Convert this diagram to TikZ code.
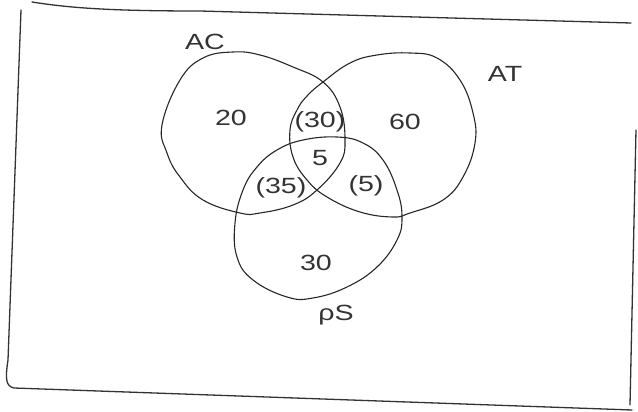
\documentclass[tikz,border=0pt]{standalone}
\usepackage{fontspec}
\setmainfont{Liberation Sans}
\newcommand{\wide}[1]{\scalebox{1.3}[1]{#1}}
\begin{document}
\begin{tikzpicture}[x=1pt,y=-1pt,
  pen/.style={draw=black!85,line width=1.1pt,line cap=round,line join=round},
  framepen/.style={draw=black!80,line width=1.3pt,line cap=round},
  region/.style={text=black!80,font=\fontsize{22}{24}\selectfont,inner sep=0pt},
  setname/.style={text=black!80,font=\fontsize{22}{24}\selectfont,inner sep=0pt}]
\useasboundingbox (0,0) rectangle (638,412);

% sheet border
\draw[framepen] (32,2) .. controls (70,8) and (110,11) .. (200,11) -- (631,23);
\draw[framepen] (21,10) -- (8,360) .. controls (5,380) and (6,386) .. (14,388) -- (632,410);
\draw[framepen] (636,130) -- (630,405);

% set AC
\draw[pen] plot[smooth cycle,tension=0.7] coordinates {
  (180,80) (203,58) (233,52) (260,55) (293,67) (323,82) (340,107) (345,140)
  (340,163) (317,190) (293,205) (260,213) (240,213) (203,200) (180,177)
  (167,153) (162,125)};
% set AT
\draw[pen] plot[smooth cycle,tension=0.7] coordinates {
  (323,82) (350,63) (377,55) (410,53) (437,58) (460,80) (473,113) (475,143)
  (463,177) (443,200) (410,213) (393,217) (360,212) (327,197) (307,180)
  (293,157) (290,130) (297,110) (307,96)};
% set PS
\draw[pen] plot[smooth cycle,tension=0.7] coordinates {
  (235,223) (237,257) (253,280) (287,297) (313,298) (347,287) (377,267)
  (397,240) (402,217) (397,190) (383,160) (363,143) (337,137) (303,140)
  (277,150) (257,167) (243,190)};

% set names
\node[setname] (ac) at (205,42) {\wide{AC}};
\node[setname] (at) at (505,74) {\wide{AT}};
\node[setname] (ps) at (336,315) {\wide{ρS}};

% region counts
\node[region] (n1) at (231,118) {\wide{20}};
\node[region] (n2) at (320,122) {\wide{(30)}};
\node[region] (n3) at (405,122) {\wide{60}};
\node[region] (n4) at (320,158) {\wide{5}};
\node[region] (n5) at (281,188) {\wide{(35)}};
\node[region] (n6) at (366,186) {\wide{(5)}};
\node[region] (n7) at (316,263) {\wide{30}};
\end{tikzpicture}
\end{document}
